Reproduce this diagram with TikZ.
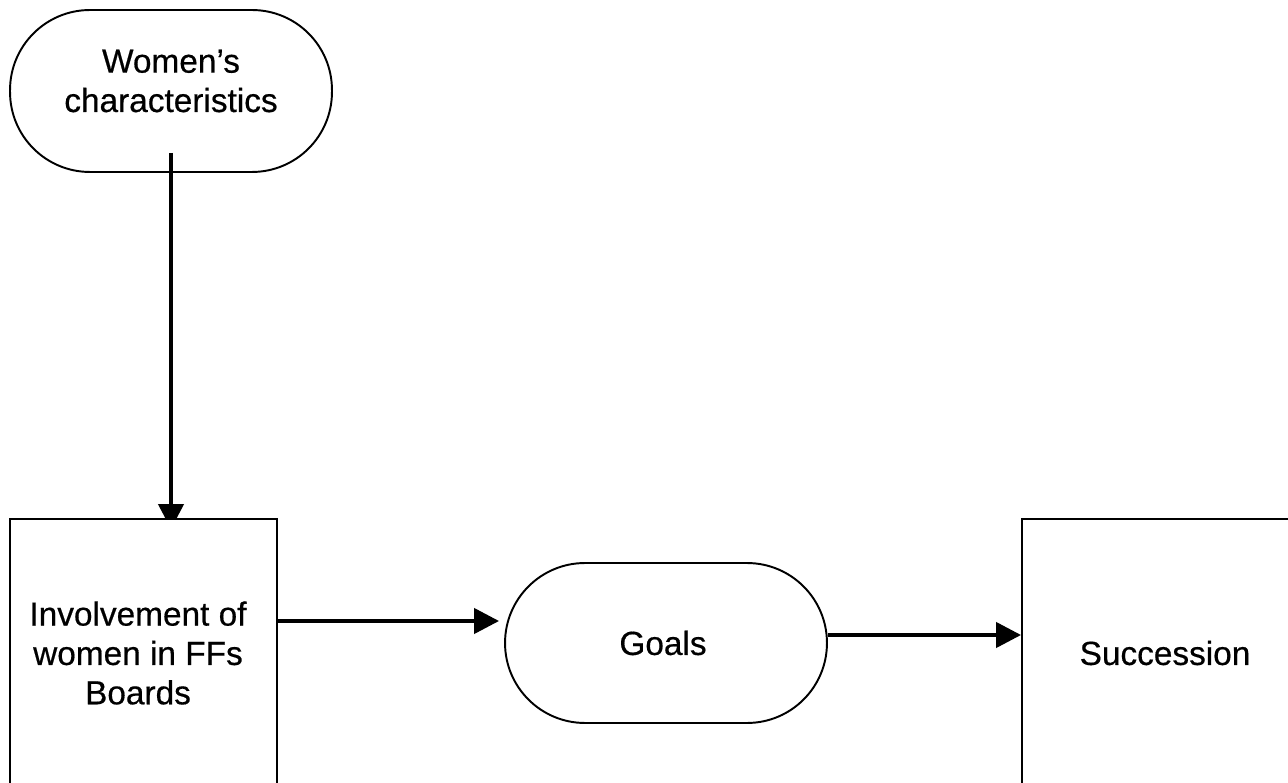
\documentclass[tikz,border=0pt]{standalone}
\usepackage{fontspec}
\setmainfont{Liberation Sans}[FakeBold=0.5]
\usetikzlibrary{arrows.meta}
\begin{document}
\begin{tikzpicture}[x=0.02cm,y=-0.02cm,
  stad/.style={draw=black, line width=1.1pt, rounded corners=1.6cm, inner sep=0pt},
  boxnode/.style={draw=black, line width=1.1pt, fill=white, inner sep=0pt, minimum width=5.34cm, minimum height=12cm},
  txt/.style={align=center, inner sep=0pt, font=\fontsize{19}{22.4}\selectfont},
  arr/.style={line width=2.4pt, -{Triangle[length=0.5cm,width=0.5cm]}}]
\useasboundingbox (0,0) rectangle (1288,783);
\clip (0,0) rectangle (1288,783);
\node[stad, minimum width=6.44cm, minimum height=3.24cm] (wc) at (171,91) {};
\node[txt] (wct) at (171,81) {Women’s\\characteristics};
\coordinate (wcs) at (171,153);
\node[boxnode] (inv) at (143.5,819) {};
\draw[arr, shorten >=-0.22cm] (wcs) -- (wcs |- inv.north);
\node[boxnode] (inv) at (143.5,819) {};
\node[txt] (invt) at (138,653) {Involvement of\\women in FFs\\Boards};
\node[stad, minimum width=6.44cm, minimum height=3.2cm] (goals) at (666,643) {};
\node[txt] (goalst) at (663,643) {Goals};
\node[boxnode] (succ) at (1155.5,819) {};
\node[txt] (succt) at (1165,653) {Succession};
\coordinate (a1) at (0,621);
\coordinate (a2) at (0,635);
\draw[arr, shorten >=0.1cm] (inv.east |- a1) -- (goals.west |- a1);
\draw[arr] (goals.east |- a2) -- (succ.west |- a2);
\end{tikzpicture}
\end{document}
